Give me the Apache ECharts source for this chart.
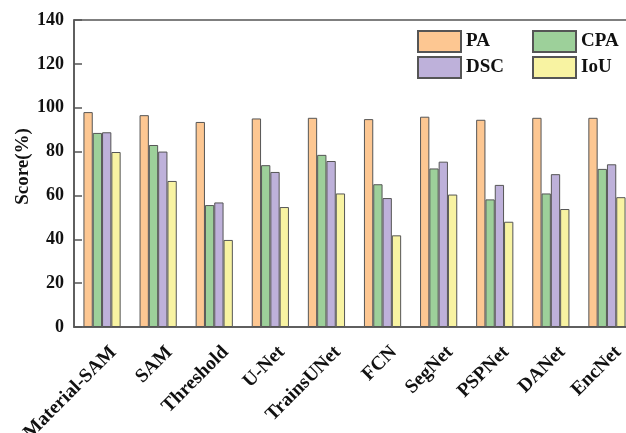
<!DOCTYPE html>
<html>
<head>
<meta charset="utf-8">
<script src="https://cdn.jsdelivr.net/npm/echarts@6/dist/echarts.min.js"></script>
<style>
  html, body { margin: 0; padding: 0; background: #fff; }
  #chart { width: 626px; height: 433px; }
</style>
</head>
<body>
<div id="chart"></div>
<script>
// Segmentation scores per method
const categories = ['Material-SAM', 'SAM', 'Threshold', 'U-Net', 'TrainsUNet', 'FCN', 'SegNet', 'PSPNet', 'DANet', 'EncNet'];
const seriesNames = ['PA', 'CPA', 'DSC', 'IoU'];
const paValues  = [98.0, 96.6, 93.5, 95.1, 95.4, 94.8, 95.9, 94.5, 95.4, 95.4];
const cpaValues = [88.5, 83.0, 55.6, 73.8, 78.5, 65.1, 72.3, 58.2, 60.9, 72.1];
const dscValues = [88.8, 80.0, 56.8, 70.7, 75.7, 58.8, 75.4, 64.8, 69.7, 74.2];
const iouValues = [79.8, 66.6, 39.7, 54.7, 60.9, 41.8, 60.4, 48.0, 53.8, 59.2];
const yTicks = [0, 20, 40, 60, 80, 100, 120, 140];

const colors = ['#FDC792', '#9DD09A', '#BEB1DA', '#F8F3A2'];
const valueSets = [paValues, cpaValues, dscValues, iouValues];
const FONT = '"Liberation Serif", "Times New Roman", serif';
const edge = '#555555';

const chart = echarts.init(document.getElementById('chart'), null, { renderer: 'canvas' });

const legendText = { fontFamily: FONT, fontWeight: 'bold', fontSize: 19, color: '#111' };

chart.setOption({
  animation: false,
  backgroundColor: '#fff',
  grid: {
    left: 74, top: 20, width: 561, height: 307,
    outerBoundsMode: 'none', containLabel: false,
    show: true, borderColor: edge, borderWidth: 1.5, backgroundColor: 'transparent'
  },
  legend: [
    {
      data: ['PA', 'DSC'], orient: 'vertical', left: 417, top: 30, icon: 'rect',
      itemWidth: 43, itemHeight: 21, itemGap: 3, textStyle: legendText, padding: 0
    },
    {
      data: ['CPA', 'IoU'], orient: 'vertical', left: 532, top: 30, icon: 'rect',
      itemWidth: 43, itemHeight: 21, itemGap: 3, textStyle: legendText, padding: 0
    }
  ],
  xAxis: {
    type: 'category',
    data: categories,
    axisLine: { lineStyle: { color: edge, width: 1.5 } },
    axisTick: { show: false },
    axisLabel: {
      rotate: 45, interval: 0, margin: 11,
      verticalAlign: 'top', padding: [6, 0, 0, 0],
      fontFamily: FONT, fontWeight: 'bold', fontSize: 19.5, color: '#111'
    }
  },
  yAxis: {
    type: 'value',
    min: yTicks[0], max: yTicks[yTicks.length - 1], interval: yTicks[1] - yTicks[0],
    name: 'Score(%)', nameLocation: 'middle', nameGap: 41, nameMoveOverlap: false,
    nameTextStyle: { fontFamily: FONT, fontWeight: 'bold', fontSize: 19, color: '#111', padding: [0, 0, 0, 14] },
    axisLine: { show: true, lineStyle: { color: edge, width: 1.5 } },
    axisTick: { show: true, inside: true, length: 8, lineStyle: { color: edge, width: 1.5 } },
    splitLine: { show: false },
    axisLabel: { margin: 10, fontFamily: FONT, fontWeight: 'bold', fontSize: 18, color: '#111' }
  },
  series: seriesNames.map((name, i) => ({
    name: name,
    type: 'bar',
    data: valueSets[i],
    barWidth: 9.3,
    barGap: '0%',
    itemStyle: { color: colors[i], borderColor: edge, borderWidth: 1 }
  }))
});
</script>
</body>
</html>
